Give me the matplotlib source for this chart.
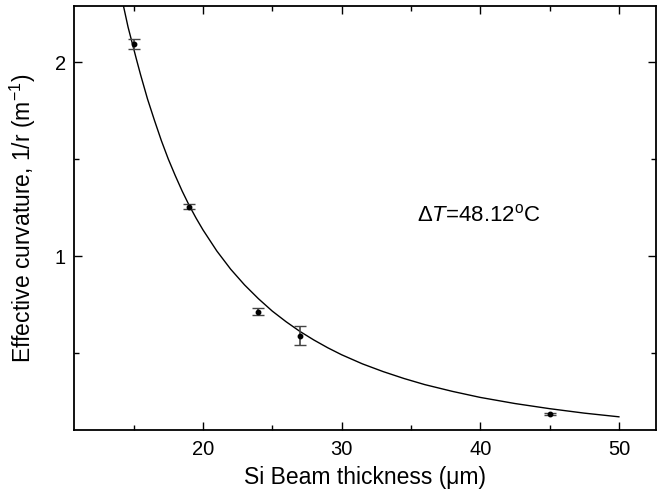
import matplotlib
matplotlib.use("Agg")
import matplotlib.pyplot as plt
from matplotlib.ticker import MultipleLocator
import numpy as np

plt.rcParams['font.family'] = ['Liberation Sans', 'DejaVu Sans']
plt.rcParams['mathtext.fontset'] = 'custom'
plt.rcParams['mathtext.rm'] = 'Liberation Sans'
plt.rcParams['mathtext.it'] = 'Liberation Sans:italic'
plt.rcParams['mathtext.default'] = 'regular'

# measured points
thickness = [15, 19, 24, 27, 45]
curvature = [2.093, 1.254, 0.713, 0.589, 0.184]
curv_err = [0.026, 0.013, 0.017, 0.050, 0.005]

# fitted curve
fit_x = [14.28, 14.6, 14.8, 15.0, 15.2, 15.5, 16.0, 16.5, 17.0, 17.5, 18.0, 18.5,
         19.0, 19.5, 20.0, 21.0, 22.0, 23.0, 24.0, 25.0, 26.0, 27.0, 28.0, 29.0,
         30.0, 31.5, 33.0, 34.5, 36.0, 38.0, 40.0, 42.5, 45.0, 47.5, 50.0]
fit_y = [2.285, 2.18, 2.125, 2.07, 2.015, 1.935, 1.81, 1.70, 1.595, 1.50, 1.415, 1.335,
         1.262, 1.196, 1.135, 1.026, 0.932, 0.851, 0.780, 0.716, 0.661, 0.611, 0.567, 0.527,
         0.491, 0.444, 0.404, 0.3685, 0.337, 0.302, 0.271, 0.2395, 0.213, 0.190, 0.171]

fig = plt.figure(figsize=(6.57, 4.95), dpi=100)
ax = fig.add_axes([74/657, 1-430/495, 1-74/657-0.001, (430-6)/495])

ax.plot(fit_x, fit_y, color='black', lw=1.0)
ax.errorbar(thickness, curvature, yerr=curv_err, fmt='o', color='black',
            ms=3.2, ecolor='#444444', elinewidth=1.2, capsize=4.5, capthick=1.0)

ax.set_xlim(10.7, 52.7)
ax.set_ylim(0.103, 2.289)
ax.xaxis.set_major_locator(MultipleLocator(10))
ax.xaxis.set_minor_locator(MultipleLocator(5))
ax.yaxis.set_major_locator(MultipleLocator(1))
ax.yaxis.set_minor_locator(MultipleLocator(0.5))
ax.tick_params(which='both', direction='in', top=True, right=True, labelsize=14.5, width=1.0)
ax.tick_params(which='major', length=6, pad=6)
ax.tick_params(which='minor', length=3.5)
ax.tick_params(axis='x', which='major', pad=7)
for s in ax.spines.values():
    s.set_linewidth(1.3)

ax.set_xlabel('Si Beam thickness (μm)', fontsize=16.5, labelpad=5)
ax.set_ylabel('Effective curvature, 1/r (m$^{-1}$)', fontsize=16.5, labelpad=12)

ax.text(0.695, 0.507, r'$\mathit{\Delta T}$=48.12$^{\mathrm{o}}$C', transform=ax.transAxes,
        fontsize=16, ha='center', va='center')

fig.savefig('out.png', dpi=100)
